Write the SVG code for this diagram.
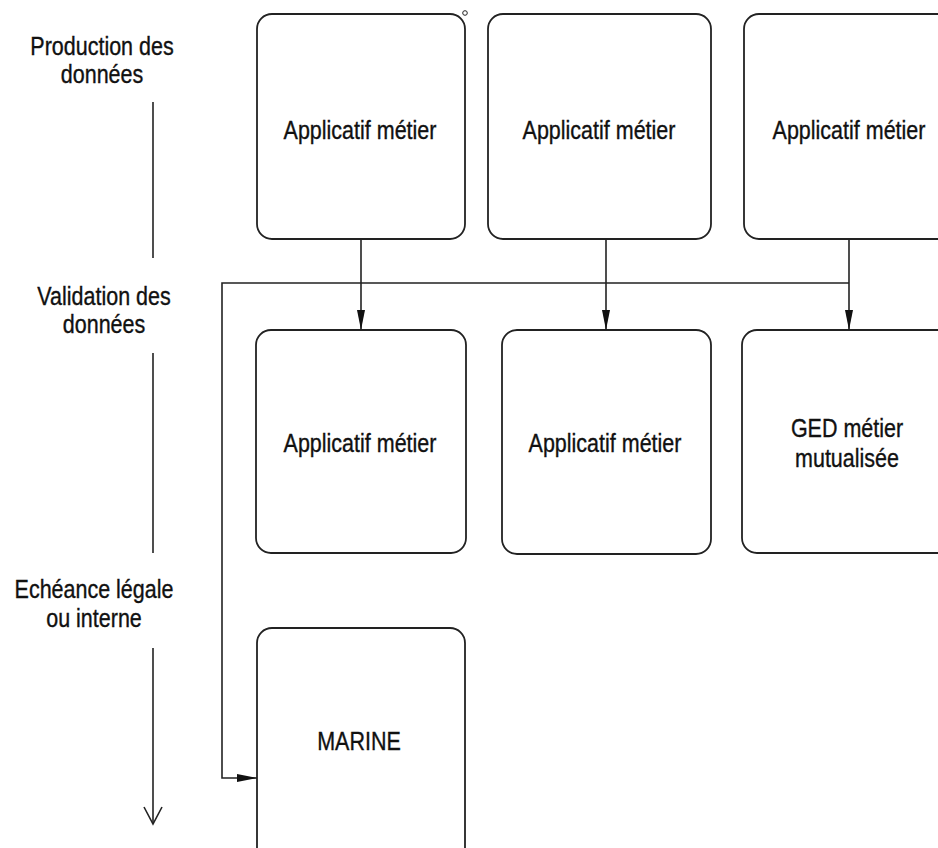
<svg xmlns="http://www.w3.org/2000/svg" width="938" height="848" viewBox="0 0 938 848">
<style>
.box{fill:#fff;stroke:#222;stroke-width:1.8}
.t{font-family:"Liberation Sans",Arial,Helvetica,sans-serif;font-size:21.5px;fill:#111;stroke:#111;stroke-width:0.3;text-anchor:middle}
.c{fill:none;stroke:#222;stroke-width:1.6}
</style>
<defs>
<marker id="ah" viewBox="0 0 20 8" refX="20" refY="4" markerWidth="20" markerHeight="8" markerUnits="userSpaceOnUse" orient="auto">
<path d="M0,0 L20,4 L0,8 Z" fill="#111"/>
</marker>
</defs>
<rect width="938" height="848" fill="#fff"/>

<g id="labels">
<text class="t" transform="translate(102,55) scale(1,1.2)">Production des</text>
<text class="t" transform="translate(102,83) scale(1,1.2)">données</text>
<text class="t" transform="translate(104,305) scale(1,1.2)">Validation des</text>
<text class="t" transform="translate(104,333) scale(1,1.2)">données</text>
<text class="t" transform="translate(94,598) scale(1,1.2)">Echéance légale</text>
<text class="t" transform="translate(94,627) scale(1,1.2)">ou interne</text>
</g>
<g id="timeline" class="c">
<line x1="153" y1="102" x2="153" y2="258"/>
<line x1="153" y1="353" x2="153" y2="553"/>
<line x1="153" y1="648" x2="153" y2="824"/>
<polyline points="144,807 153,824 162,807"/>
</g>

<g id="n1"><rect class="box" x="257" y="14" width="208" height="225" rx="15"/><text class="t" transform="translate(360,139) scale(1,1.2)">Applicatif métier</text></g>
<circle cx="465" cy="13" r="2.3" fill="#fff" stroke="#222" stroke-width="1"/>
<g id="n2"><rect class="box" x="488" y="14" width="223" height="225" rx="15"/><text class="t" transform="translate(599,139) scale(1,1.2)">Applicatif métier</text></g>
<g id="n3"><rect class="box" x="744" y="14" width="220" height="225" rx="15"/><text class="t" transform="translate(849,139) scale(1,1.2)">Applicatif métier</text></g>
<g id="n4"><rect class="box" x="256" y="330" width="210" height="223" rx="15"/><text class="t" transform="translate(360,452) scale(1,1.2)">Applicatif métier</text></g>
<g id="n5"><rect class="box" x="502" y="330" width="209" height="224" rx="15"/><text class="t" transform="translate(605,452) scale(1,1.2)">Applicatif métier</text></g>
<g id="n6"><rect class="box" x="742" y="330" width="220" height="223" rx="15"/><text class="t" transform="translate(847,437) scale(1,1.2)">GED métier</text><text class="t" transform="translate(847,467) scale(1,1.2)">mutualisée</text></g>
<g id="n7"><rect class="box" x="257" y="628" width="208" height="235" rx="15"/><text class="t" transform="translate(359,750) scale(1,1.2)">MARINE</text></g>

<g id="connectors" class="c">
<line x1="361" y1="239" x2="361" y2="330" marker-end="url(#ah)"/>
<line x1="606" y1="239" x2="606" y2="330" marker-end="url(#ah)"/>
<line x1="849" y1="239" x2="849" y2="330" marker-end="url(#ah)"/>
<polyline points="849,283 222,283 222,778 257,778" marker-end="url(#ah)"/>
</g>
</svg>
